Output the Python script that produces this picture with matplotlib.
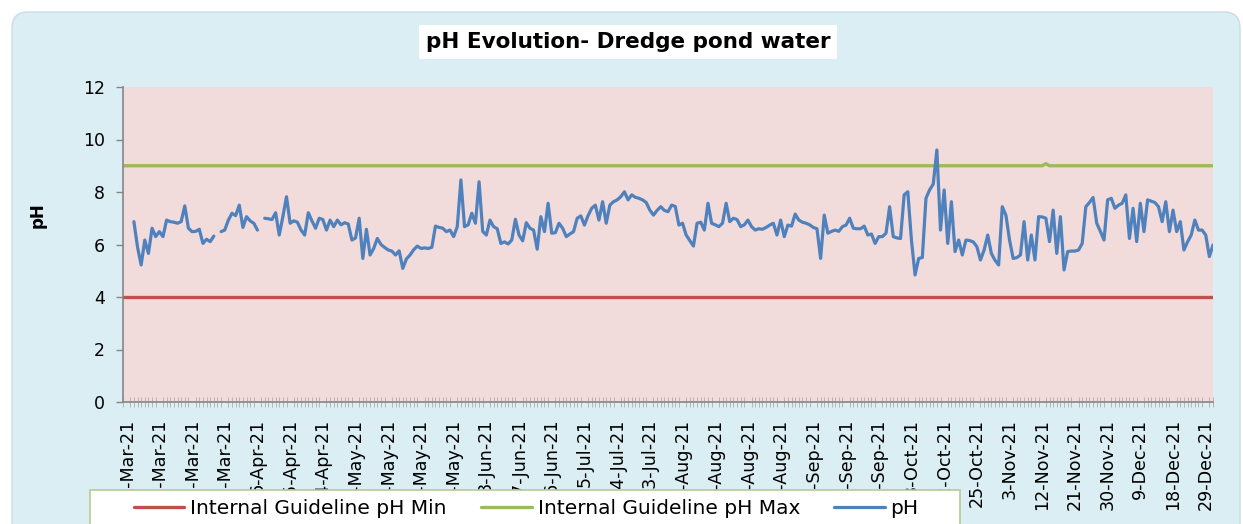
import numpy as np
import matplotlib.pyplot as plt
from matplotlib.patches import FancyBboxPatch, Rectangle

nan = np.nan

# daily pH readings, one per category (28-Feb-21 .. 31-Dec-21, a few dates missing)
ph = [
    nan, nan, nan, 6.87, 5.90, 5.22, 6.17, 5.66, 6.62, 6.30,
    6.49, 6.30, 6.93, 6.87, 6.85, 6.81, 6.87, 7.47, 6.62, 6.49,
    6.50, 6.58, 6.04, 6.20, 6.11, 6.32, nan, 6.49, 6.55, 6.93,
    7.19, 7.10, 7.50, 6.65, 7.06, 6.90, 6.81, 6.55, nan, 7.00,
    6.98, 6.95, 7.21, 6.36, 7.06, 7.82, 6.81, 6.90, 6.85, 6.55,
    6.36, 7.21, 6.90, 6.62, 7.00, 6.95, 6.55, 6.93, 6.68, 6.93,
    6.75, 6.83, 6.78, 6.17, 6.25, 7.00, 5.47, 6.58, 5.60, 5.85,
    6.23, 6.00, 5.89, 5.79, 5.75, 5.60, 5.76, 5.09, 5.45, 5.60,
    5.80, 5.94, 5.85, 5.87, 5.85, 5.89, 6.70, 6.65, 6.62, 6.49,
    6.55, 6.30, 6.68, 8.46, 6.68, 6.75, 7.19, 6.81, 8.39, 6.50,
    6.36, 6.93, 6.68, 6.60, 6.04, 6.10, 6.02, 6.17, 6.96, 6.36,
    6.14, 6.83, 6.62, 6.55, 5.82, 7.06, 6.49, 7.57, 6.43, 6.45,
    6.81, 6.62, 6.30, 6.40, 6.49, 7.00, 7.09, 6.74, 7.10, 7.38,
    7.50, 6.93, 7.63, 6.81, 7.50, 7.63, 7.70, 7.82, 8.01, 7.70,
    7.89, 7.80, 7.76, 7.70, 7.60, 7.31, 7.12, 7.30, 7.44, 7.30,
    7.25, 7.50, 7.45, 6.74, 6.81, 6.36, 6.15, 5.94, 6.81, 6.85,
    6.55, 7.57, 6.81, 6.75, 6.68, 6.81, 7.57, 6.87, 7.00, 6.95,
    6.68, 6.75, 6.93, 6.68, 6.55, 6.60, 6.58, 6.65, 6.74, 6.81,
    6.36, 6.93, 6.30, 6.74, 6.70, 7.16, 6.93, 6.85, 6.81, 6.75,
    6.65, 6.60, 5.47, 7.12, 6.43, 6.50, 6.55, 6.50, 6.68, 6.74,
    7.00, 6.62, 6.60, 6.60, 6.70, 6.36, 6.40, 6.04, 6.30, 6.30,
    6.43, 7.44, 6.30, 6.25, 6.23, 7.89, 8.01, 6.17, 4.84, 5.47,
    5.50, 7.76, 8.08, 8.30, 9.60, 6.55, 8.08, 6.04, 7.63, 5.73,
    6.17, 5.60, 6.17, 6.15, 6.10, 5.92, 5.41, 5.79, 6.36, 5.66,
    5.40, 5.22, 7.44, 7.12, 6.17, 5.47, 5.50, 5.60, 6.87, 5.41,
    6.36, 5.41, 7.06, 7.05, 7.00, 6.11, 7.31, 5.66, 7.06, 5.03,
    5.73, 5.75, 5.75, 5.79, 6.04, 7.44, 7.60, 7.79, 6.81, 6.50,
    6.17, 7.70, 7.76, 7.38, 7.50, 7.57, 7.89, 6.23, 7.38, 6.11,
    7.57, 6.49, 7.70, 7.65, 7.60, 7.44, 6.87, 7.63, 6.49, 7.31,
    6.49, 6.87, 5.79, 6.10, 6.36, 6.93, 6.55, 6.55, 6.36, 5.54,
    5.98,
]
n_days = len(ph)

ph_min = [4.0] * n_days
ph_max = [9.0] * n_days
ph_max[254] = 9.08

date_labels = ["1-Mar-21", "10-Mar-21", "19-Mar-21", "28-Mar-21", "6-Apr-21",
               "15-Apr-21", "24-Apr-21", "3-May-21", "12-May-21", "21-May-21",
               "30-May-21", "8-Jun-21", "17-Jun-21", "26-Jun-21", "5-Jul-21",
               "14-Jul-21", "23-Jul-21", "1-Aug-21", "10-Aug-21", "19-Aug-21",
               "28-Aug-21", "6-Sep-21", "15-Sep-21", "24-Sep-21", "3-Oct-21",
               "12-Oct-21", "25-Oct-21", "3-Nov-21", "12-Nov-21", "21-Nov-21",
               "30-Nov-21", "9-Dec-21", "18-Dec-21", "29-Dec-21"]
label_pos = [1 + 9 * k for k in range(len(date_labels))]

W, H = 1243, 524
fig = plt.figure(figsize=(W / 100, H / 100), dpi=100)
fig.patch.set_facecolor('white')

# chart area background (rounded, cut off at the bottom)
bg = FancyBboxPatch((0.12, -0.5), 12.28, 5.62,
                    boxstyle="round,pad=0,rounding_size=0.16",
                    transform=fig.dpi_scale_trans, facecolor='#DAEEF3',
                    edgecolor='#C9DDE2', linewidth=1, zorder=-10)
fig.patches.append(bg)

ax = fig.add_axes([123 / W, 1 - 402 / H, 1090 / W, 315 / H])
ax.set_facecolor('#F2DCDB')

x = np.arange(n_days)
l_min, = ax.plot(x, ph_min, color='#C0504D', lw=2.4, solid_capstyle='round')
l_max, = ax.plot(x, ph_max, color='#9BBB59', lw=2.4, solid_capstyle='round')
l_ph, = ax.plot(x, ph, color='#4F81BD', lw=2.3, solid_capstyle='round',
                solid_joinstyle='round')

ax.set_xlim(0, n_days - 1)
ax.set_ylim(0, 12)
ax.set_yticks(range(0, 13, 2))
ax.tick_params(axis='y', labelsize=12.5, length=5, width=1, color='#868686', pad=8)

ax.set_xticks(label_pos)
ax.set_xticklabels(date_labels, rotation=90, ha='center', va='top', fontsize=12.6)
ax.set_xticks(x, minor=True)
ax.tick_params(axis='x', which='major', length=0, pad=12)
ax.tick_params(axis='x', which='minor', length=7, width=0.5, color='#B09C9C',
               direction='inout')

for s in ['top', 'right']:
    ax.spines[s].set_visible(False)
ax.spines['left'].set_color('#868686')
ax.spines['bottom'].set_color('#868686')
ax.spines['left'].set_linewidth(1.2)
ax.spines['bottom'].set_linewidth(1.2)

fig.text(38 / W, 1 - 215 / H, 'pH', rotation=90, fontsize=12, fontweight='bold',
         ha='center', va='center')

fig.text(628 / W, 1 - 42 / H, 'pH Evolution- Dredge pond water', fontsize=15.5,
         fontweight='bold', ha='center', va='center',
         bbox=dict(facecolor='white', edgecolor='none', pad=5))

# legend box, partly hidden below the bottom edge (covers the long date labels)
fig.patches.append(Rectangle((90 / W, -0.05), 870 / W, (524 - 490) / H + 0.05,
                             transform=fig.transFigure, facecolor='white',
                             edgecolor='#B6CB93', linewidth=1.2, zorder=1))
fig.legend([l_min, l_max, l_ph],
           ['Internal Guideline pH Min', 'Internal Guideline pH Max', 'pH'],
           loc='center left', bbox_to_anchor=(124 / W, 1 - 509 / H), ncol=3,
           frameon=False, fontsize=14.5, handlelength=2.5, handletextpad=0.3,
           columnspacing=1.7, borderpad=0)

fig.savefig('out.png', dpi=100)
